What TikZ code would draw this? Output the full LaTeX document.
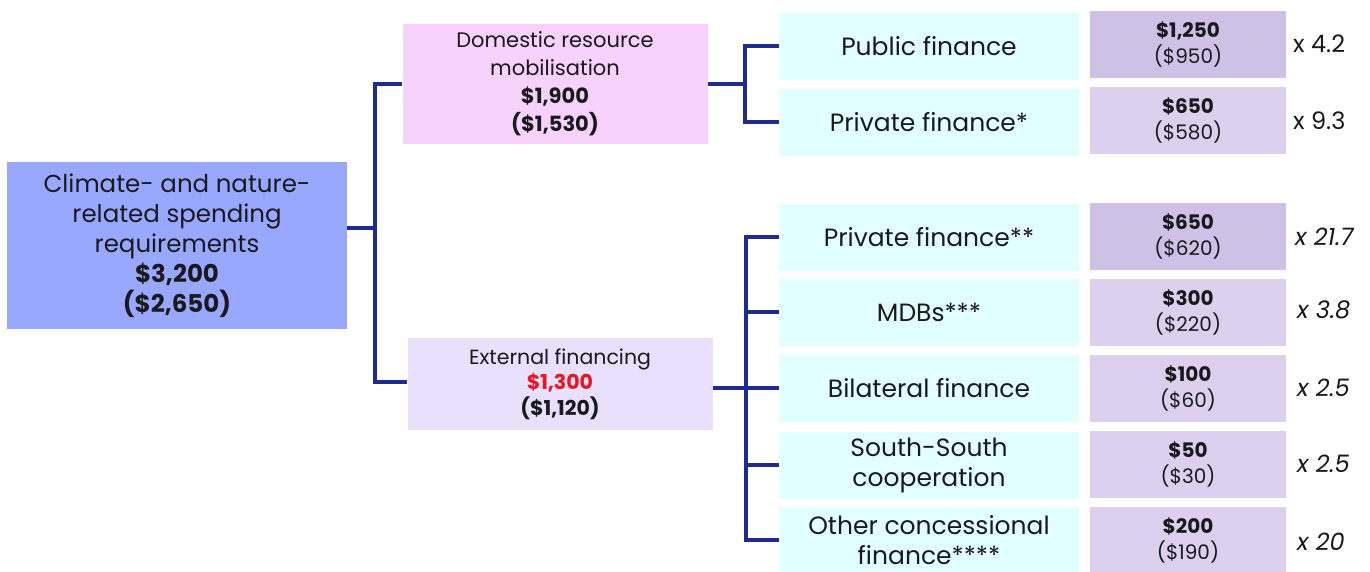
\documentclass[tikz,border=0pt]{standalone}
\usepackage{fontspec}
\setmainfont{Poppins}
\usetikzlibrary{calc}

\definecolor{rootfill}{RGB}{153,168,255}
\definecolor{domfill}{RGB}{247,210,252}
\definecolor{extfill}{RGB}{232,224,253}
\definecolor{srcfill}{RGB}{226,255,255}
\definecolor{valdark}{RGB}{207,192,230}
\definecolor{vallight}{RGB}{220,208,238}
\definecolor{linkblue}{RGB}{30,44,145}
\definecolor{txt}{RGB}{25,25,30}
\definecolor{hot}{RGB}{238,20,30}

\begin{document}
\begin{tikzpicture}[x=1pt,y=-1pt,
  box/.style={inner sep=0pt, align=center, text=txt},
  rootbox/.style={box, fill=rootfill, minimum width=340pt, minimum height=167pt,
    font=\fontsize{24.5}{30}\selectfont},
  midbox/.style={box, minimum width=305pt},
  srcbox/.style={box, fill=srcfill, minimum width=300pt, minimum height=67pt,
    font=\fontsize{25}{30}\selectfont},
  valbox/.style={box, minimum width=196pt, minimum height=67pt,
    font=\fontsize{20}{26}\selectfont},
  ratio/.style={anchor=west, inner sep=0pt, text=txt, font=\fontsize{24}{28}\selectfont},
  slanted/.style={font=\fontsize{24}{28}\selectfont\itshape},
  conn/.style={draw=linkblue, line width=4pt}
]
\fill[white] (0,0) rectangle (1370,571);
\useasboundingbox (0,0) rectangle (1370,571);

% left and middle columns
\node[rootbox] (root) at (177,245.5) {Climate- and nature-\\related spending\\requirements\\\textbf{\$3,200}\\\textbf{(\$2,650)}};
\node[midbox, fill=domfill, minimum height=120pt, font=\fontsize{21}{28}\selectfont] (dom) at (555,84) {Domestic resource\\mobilisation\\\textbf{\$1,900}\\\textbf{(\$1,530)}};
\node[midbox, fill=extfill, minimum height=92pt, font=\fontsize{20.5}{25.5}\selectfont] (ext) at (560,384) {External financing\\{\color{hot}\bfseries \$1,300}\\\textbf{(\$1,120)}};

% sources of finance
\node[srcbox] (pub)  at (929,46)  {Public finance};
\node[srcbox] (prv1) at (929,122) {Private finance*};
\node[srcbox] (prv2) at (929,237) {Private finance**};
\node[srcbox] (mdb)  at (929,312) {MDBs***};
\node[srcbox] (bil)  at (929,388) {Bilateral finance};
\node[srcbox] (ssc)  at (929,465) {South-South\\cooperation};
\node[srcbox] (oth)  at (929,540) {Other concessional\\finance****};

% amounts
\node[valbox, fill=valdark]  (v1) at (1188,44)  {\textbf{\$1,250}\\(\$950)};
\node[valbox, fill=vallight] (v2) at (1188,120.5) {\textbf{\$650}\\(\$580)};
\node[valbox, fill=valdark]  (v3) at (1188,236.5) {\textbf{\$650}\\(\$620)};
\node[valbox, fill=vallight] (v4) at (1188,312) {\textbf{\$300}\\(\$220)};
\node[valbox, fill=vallight] (v5) at (1188,388) {\textbf{\$100}\\(\$60)};
\node[valbox, fill=vallight] (v6) at (1188,464) {\textbf{\$50}\\(\$30)};
\node[valbox, fill=vallight] (v7) at (1188,540) {\textbf{\$200}\\(\$190)};

% multipliers
\node[ratio] (r1) at (1293,44)  {x 4.2};
\node[ratio] (r2) at (1293,120.5) {x 9.3};
\node[ratio, slanted] (r3) at (1295,237) {x 21.7};
\node[ratio, slanted] (r4) at (1297,310) {x 3.8};
\node[ratio, slanted] (r5) at (1297,388) {x 2.5};
\node[ratio, slanted] (r6) at (1297,464) {x 2.5};
\node[ratio, slanted] (r7) at (1297,542) {x 20};

% connectors
\coordinate (rbus) at (375,228);
\coordinate (dbus) at (745,84);
\coordinate (ebus) at (746,388);

\draw[conn] ([yshift=17.5pt]root.east) -- (rbus);
\draw[conn] (dom.west) -| (rbus) |- ([yshift=2pt]ext.west);

\draw[conn] (dom.east) -- (dom.east -| dbus);
\draw[conn] (pub.west) -| (dbus) |- (prv1.west);

\draw[conn] ([yshift=-4pt]ext.east) -- (ebus);
\draw[conn] (prv2.west) -| (ebus) |- (oth.west);
\draw[conn] (mdb.west) -- (mdb.west -| ebus);
\draw[conn] (bil.west) -- (bil.west -| ebus);
\draw[conn] (ssc.west) -- (ssc.west -| ebus);
\end{tikzpicture}
\end{document}
